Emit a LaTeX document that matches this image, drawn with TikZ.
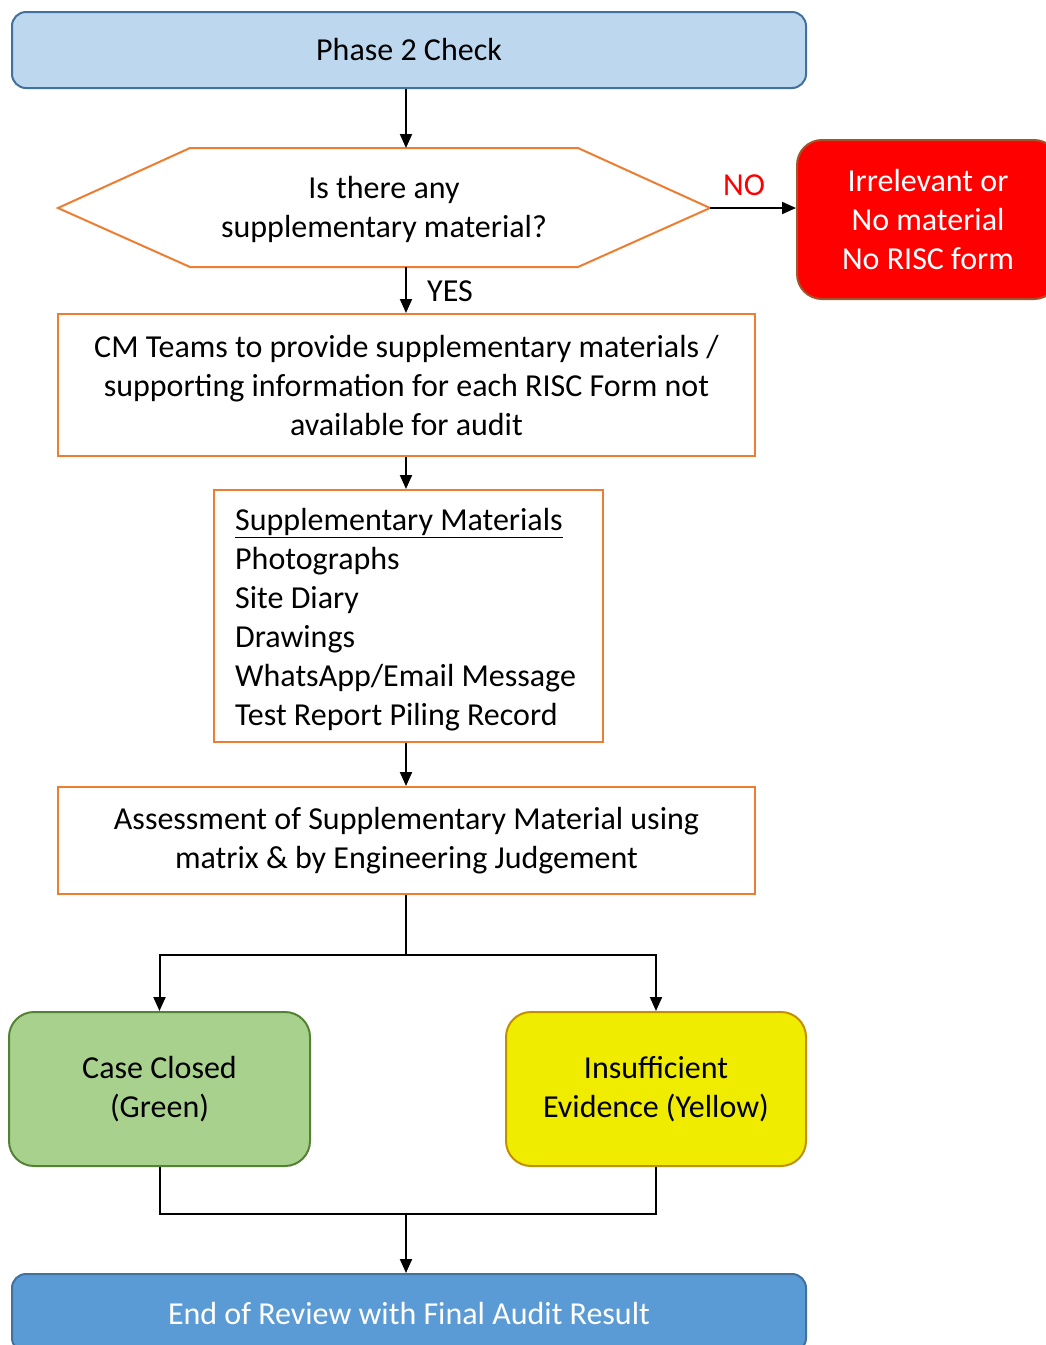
\documentclass[tikz,border=0pt]{standalone}
\usepackage{fontspec}
\setmainfont{Carlito}
\usetikzlibrary{arrows.meta}
\definecolor{lblue}{HTML}{BDD7EE}
\definecolor{dblue}{HTML}{41719C}
\definecolor{mblue}{HTML}{5B9BD5}
\definecolor{orng}{HTML}{ED7D31}
\definecolor{gfill}{HTML}{A9D18E}
\definecolor{gline}{HTML}{548235}
\definecolor{yfill}{HTML}{F0EC00}
\definecolor{yline}{HTML}{C09000}
\definecolor{rline}{HTML}{A5532B}
\begin{document}
\begin{tikzpicture}[x=1pt,y=-1pt,
  every node/.style={font=\fontsize{32}{39}\selectfont, inner sep=0pt, align=center},
  box/.style={draw=orng, line width=2pt, fill=white},
  rbox/.style={rounded corners=14pt, line width=2pt},
  conn/.style={line width=2pt, -{Triangle[length=14pt,width=12pt]}},
  plain/.style={line width=2pt}]
\useasboundingbox (0,0) rectangle (1046,1345);
\clip (0,0) rectangle (1046,1345);
\fill[white] (0,0) rectangle (1046,1345);

\node[rbox, draw=dblue, fill=lblue, minimum width=794pt, minimum height=76pt] (p2) at (409,50) {Phase 2 Check};

\coordinate (hL) at (58,208);
\coordinate (hTL) at (190,148);
\coordinate (hTR) at (578,148);
\coordinate (hR) at (710,208);
\coordinate (hBR) at (578,267);
\coordinate (hBL) at (190,267);
\coordinate (hT) at (406,148);
\coordinate (hB) at (406,267);
\draw[orng, line width=2pt, fill=white] (hL)--(hTL)--(hTR)--(hR)--(hBR)--(hBL)--cycle;
\node (q) at (384,209) {Is there any\\supplementary material?};

\node[rbox, rounded corners=25pt, draw=rline, fill=red, text=white, minimum width=262pt, minimum height=159pt] (irr) at (928,219.5) {Irrelevant or\\No material\\No RISC form};

\node[box, minimum width=697pt, minimum height=142pt] (cm) at (406.5,385) {CM Teams to provide supplementary materials /\\supporting information for each RISC Form not\\available for audit};

\node[box, minimum width=389pt, minimum height=252pt] (sm) at (408.5,616) {};
\node[anchor=west, align=left] (smt) at (235,620) {\underline{Supplementary Materials}\\Photographs\\Site Diary\\Drawings\\WhatsApp/Email Message\\Test Report Piling Record};

\node[box, minimum width=697pt, minimum height=107pt] (as) at (406.5,840.5) {Assessment of Supplementary Material using\\matrix \& by Engineering Judgement};

\node[rbox, rounded corners=25pt, draw=gline, fill=gfill, minimum width=301pt, minimum height=154pt] (gr) at (159.5,1089) {Case Closed\\(Green)};
\node[rbox, rounded corners=25pt, draw=yline, fill=yfill, minimum width=300pt, minimum height=154pt] (ye) at (656,1089) {Insufficient\\Evidence (Yellow)};

\node[rbox, draw=dblue, fill=mblue, text=white, minimum width=794pt, minimum height=78pt] (end) at (409,1313) {End of Review with Final Audit Result};

\draw[conn] (p2.south -| hT) -- (hT);
\draw[conn] (hR) -- (hR -| irr.west);
\node[text=red] (no) at (744,185) {NO};
\draw[conn] (hB) -- (hB |- cm.north);
\node (yes) at (450,291) {YES};
\draw[conn] (cm.south -| hB) -- (sm.north -| hB);
\draw[conn] (sm.south -| hB) -- (as.north -| hB);
\coordinate (split) at (406,955);
\draw[plain] (as.south -| split) -- (split);
\draw[conn] (split) -| (gr.north);
\draw[conn] (split) -| (ye.north);
\coordinate (join) at (406,1214);
\draw[plain] (gr.south) |- (join) -| (ye.south);
\draw[conn] (join) -- (end.north -| join);
\end{tikzpicture}
\end{document}
